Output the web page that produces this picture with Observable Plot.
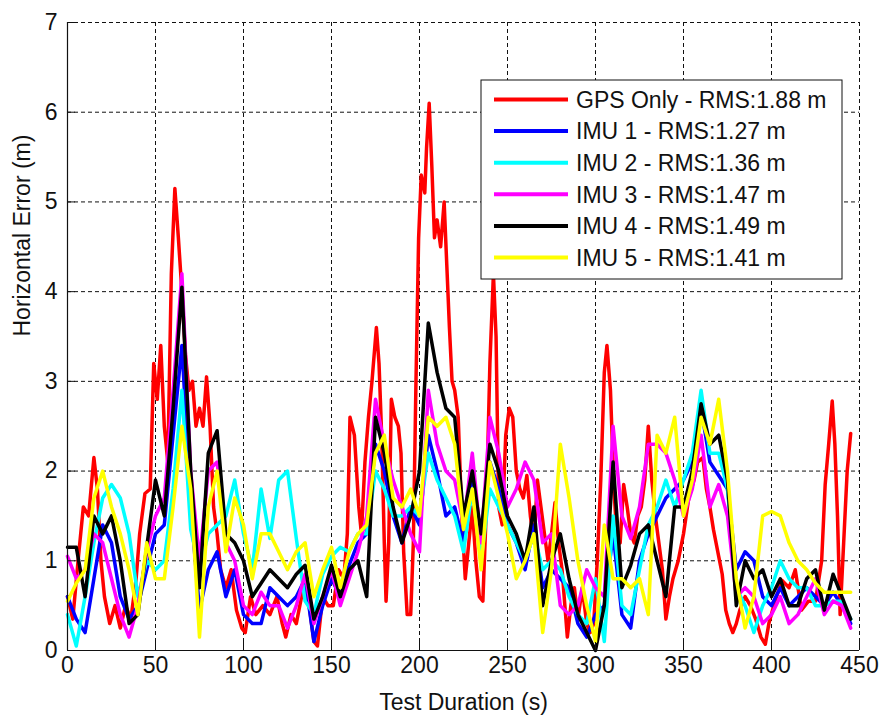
<!DOCTYPE html>
<html><head><meta charset="utf-8">
<script src="https://cdn.jsdelivr.net/npm/d3@7"></script>
<script src="https://cdn.jsdelivr.net/npm/@observablehq/plot@0.6"></script>
<style>html,body{margin:0;padding:0;background:#fff;overflow:hidden;} #chart svg{display:block;}</style>
</head><body><div id="chart"></div>
<script>
// ---------- data ----------
const seriesNames = [
  "GPS Only - RMS:1.88 m",
  "IMU 1 - RMS:1.27 m",
  "IMU 2 - RMS:1.36 m",
  "IMU 3 - RMS:1.47 m",
  "IMU 4 - RMS:1.49 m",
  "IMU 5 - RMS:1.41 m"
];
const seriesColors = ["#ff0000", "#0000ff", "#00ffff", "#ff00ff", "#000000", "#ffff00"];
const xTicks = [0, 50, 100, 150, 200, 250, 300, 350, 400, 450];
const yTicks = [0, 1, 2, 3, 4, 5, 6, 7];
const xLabel = "Test Duration (s)";
const yLabel = "Horizontal Error (m)";

const gpsTime = [
  0,3,6,9,12,15,17,19,21,24,
  27,30,33,36,39,41,44,47,49,51,
  53,55,57,59,61,63,65,67,69,71,
  73,75,77,79,81,83,85,87,90,93,
  96,99,101,104,107,111,115,119,122,124,
  127,130,134,137,140,142,145,148,151,154,
  157,159,160.5,163,165.5,167,169,171,173,175.5,
  177,178.5,180,181,182.5,184,186,188,189.5,191,
  193,195,196.5,198,199.5,201,203,204,205.5,207,
  208.5,210,212,214,215.5,217,218.5,220,222,224,
  226,228,230,232,234,236,238,240,242,243.5,
  245,247,249,251,253,255,257,259,261,263,
  265,267,269,271,273,275,277,279,281,283,
  284,286,288,290,292.5,295,297,299,301,303,
  305,306.5,308.5,310.5,312,314,316,318,320,322,
  324,326,328,330,332,334,336,338,340,342,
  344,347,350,353,356,358,361,363,365,367,
  370,372,374,376,378,380,382,385,388,391,
  394,396.5,398.5,402,406,410,413.5,417,421,425,
  428.5,430.5,432.5,434.5,436,437.5,439,441,443,445
];
const gpsError = [
  0.6,0.35,1.0,1.6,1.5,2.15,1.8,1.0,0.6,0.3,
  0.5,0.25,0.5,0.35,0.8,1.3,1.75,1.8,3.2,2.8,
  3.4,2.5,2.1,4.2,5.15,4.6,4.0,3.3,2.9,3.0,
  2.5,2.7,2.5,3.05,2.5,1.6,1.3,0.9,0.7,0.9,
  0.45,0.25,0.2,0.6,0.4,0.5,0.4,0.6,0.3,0.15,
  0.4,0.3,0.7,0.55,0.1,0.05,0.6,0.5,0.5,0.9,
  0.8,1.3,2.6,2.4,1.6,1.3,2.1,2.6,3.0,3.6,
  3.2,2.4,1.2,0.55,1.2,2.8,2.6,2.5,2.2,1.1,
  0.4,0.4,1.2,3.0,4.6,5.3,5.1,5.6,6.1,5.4,
  4.6,4.8,4.5,5.0,4.3,3.6,3.0,2.9,2.6,1.5,
  0.8,1.2,1.6,1.0,0.6,0.55,1.6,3.2,4.2,3.5,
  1.6,1.4,2.4,2.7,2.6,2.0,1.8,1.7,1.95,1.5,
  1.2,1.9,1.6,1.3,1.0,1.3,1.65,1.2,0.9,0.4,
  0.15,0.5,0.7,0.35,0.7,0.3,0.2,0.3,1.0,1.9,
  3.1,3.4,2.9,1.8,1.3,1.2,1.85,1.6,1.3,1.2,
  1.5,1.6,1.9,2.5,1.9,1.5,1.2,0.9,0.35,0.6,
  0.8,1.0,1.3,1.7,1.9,2.1,2.15,1.8,1.6,1.35,
  1.05,0.85,0.45,0.3,0.2,0.3,0.45,0.6,0.5,0.35,
  0.15,0.07,0.3,0.55,0.78,0.7,0.9,0.45,0.55,0.55,
  1.0,1.85,2.3,2.78,2.3,1.5,0.4,1.2,2.0,2.42
];

const imuTime = [
  0,5,10,15,20,25,30,35,40,45,
  50,55,60,65,70,75,80,85,90,95,
  100,105,110,115,120,125,130,135,140,145,
  150,155,160,165,170,175,180,185,190,195,
  200,205,210,215,220,225,230,235,240,245,
  250,255,260,265,270,275,280,285,290,295,
  300,305,310,315,320,325,330,335,340,345,
  350,355,360,365,370,375,380,385,390,395,
  400,405,410,415,420,425,430,435,440,445
];
const imu1 = [
  0.6,0.35,0.2,0.8,1.4,1.2,0.6,0.35,0.5,0.9,
  1.3,1.4,2.4,3.4,1.6,0.45,0.9,1.1,0.6,0.9,
  0.4,0.3,0.3,0.7,0.6,0.5,0.6,0.8,0.1,0.5,
  0.8,0.6,0.95,1.2,1.3,2.3,2.0,1.5,1.2,1.6,
  1.4,2.4,2.0,1.5,1.6,1.2,2.0,1.2,2.1,1.8,
  1.4,1.2,0.9,1.4,0.7,0.9,0.8,0.7,0.3,0.15,
  0.4,0.5,1.3,0.4,0.25,1.0,1.3,1.5,1.7,1.8,
  1.9,2.1,2.7,2.1,1.95,1.8,0.9,1.1,1.0,0.6,
  0.5,0.7,0.5,0.6,0.7,0.6,0.5,0.65,0.5,0.3
];
const imu2 = [
  0.4,0.05,0.6,1.2,1.7,1.85,1.7,1.3,0.6,1.0,
  0.9,1.0,1.8,2.9,1.35,0.9,1.3,1.4,1.5,1.9,
  1.3,0.9,1.8,1.25,1.9,2.0,1.25,0.55,0.4,0.85,
  1.05,1.15,1.1,1.3,1.3,2.0,1.8,1.5,1.5,1.6,
  1.5,2.2,1.9,1.7,1.5,1.1,1.8,1.0,1.8,1.6,
  1.4,1.2,1.0,1.3,0.9,1.0,0.9,0.6,0.4,0.3,
  0.8,0.1,1.5,0.5,0.4,0.9,1.4,1.6,1.9,1.6,
  1.9,2.2,2.9,2.2,2.2,1.8,0.7,0.5,0.2,0.5,
  0.7,1.0,0.8,0.7,0.7,0.5,0.5,0.55,0.55,0.35
];
const imu3 = [
  1.05,0.8,0.9,1.3,1.2,0.8,0.4,0.15,0.5,1.1,
  1.5,1.7,2.9,4.2,2.0,1.0,2.0,2.1,1.2,1.0,
  0.5,0.4,0.65,0.5,0.5,0.25,0.5,0.85,0.3,0.6,
  0.9,0.5,0.8,1.1,1.5,2.8,2.3,1.9,1.6,1.3,
  1.1,2.9,2.3,2.0,1.9,1.4,2.2,1.2,2.6,2.2,
  1.6,1.8,2.1,1.9,1.2,1.3,0.5,0.4,0.5,0.9,
  0.7,0.6,2.5,1.5,1.25,1.6,2.3,2.3,2.2,1.9,
  1.5,1.8,2.4,1.6,1.85,1.5,0.6,0.7,0.6,0.3,
  0.4,0.6,0.3,0.4,0.6,0.8,0.4,0.55,0.5,0.25
];
const imu4 = [
  1.15,1.15,0.6,1.5,1.3,1.5,1.0,0.3,0.4,1.15,
  1.9,1.5,2.7,4.05,2.0,0.7,2.2,2.45,1.3,1.2,
  1.0,0.6,0.75,0.9,0.8,0.7,0.85,0.95,0.35,0.6,
  0.95,0.6,0.9,1.0,0.6,2.6,2.2,1.6,1.2,1.5,
  2.0,3.65,3.1,2.7,2.6,1.5,2.0,1.3,2.3,2.0,
  1.5,1.3,1.0,1.6,0.5,1.0,1.3,0.8,0.4,0.2,
  0.0,0.5,2.1,0.7,0.95,1.3,1.4,1.0,0.6,1.6,
  1.6,2.0,2.75,2.3,2.4,1.9,0.5,1.0,0.8,0.9,
  0.6,0.8,0.5,0.5,0.8,0.9,0.45,0.85,0.6,0.35
];
const imu5 = [
  0.55,0.75,0.9,1.7,2.0,1.6,1.3,0.9,0.4,1.2,
  0.8,0.8,1.6,2.5,1.8,0.15,1.6,2.0,1.1,1.7,
  1.4,0.8,1.3,1.3,1.1,0.9,1.1,1.2,0.6,0.9,
  1.15,0.7,1.1,1.3,1.4,2.2,2.4,1.7,1.6,1.8,
  1.5,2.6,2.5,2.6,2.3,1.35,1.8,0.9,2.1,1.7,
  1.3,0.8,1.0,1.3,0.2,0.9,2.3,1.7,1.0,0.5,
  0.1,1.4,0.8,0.8,0.7,0.8,0.4,2.4,2.2,2.6,
  1.5,1.9,2.6,2.3,2.8,2.0,0.8,0.25,0.6,1.5,
  1.55,1.5,1.2,1.0,0.9,0.75,0.65,0.65,0.65,0.65
];

// ---------- build ----------
const gpsRows = gpsTime.map((t, i) => ({t, v: gpsError[i]}));
const imuSeries = [imu1, imu2, imu3, imu4, imu5];
const imuRows = imuSeries.map(vals => imuTime.map((t, i) => ({t, v: vals[i]})));

const FONT = "'Liberation Sans', Arial, Helvetica, sans-serif";
const FS = 23;
const W = 882, H = 715, ML = 67, MR = 23, MT = 22, MB = 65;
const lineStyle = {strokeWidth: 3.5, strokeLinejoin: "round", strokeLinecap: "round"};

const chart = Plot.plot({
  width: W, height: H,
  marginLeft: ML, marginRight: MR, marginTop: MT, marginBottom: MB,
  style: {fontFamily: FONT, fontSize: FS + "px", background: "#fff", color: "#111"},
  x: {domain: [0, 450]},
  y: {domain: [0, 7]},
  marks: [
    Plot.ruleX(xTicks.slice(1), {x: d => d, stroke: "#111", strokeWidth: 1, strokeDasharray: "4,3"}),
    Plot.ruleY(yTicks.slice(1), {y: d => d, stroke: "#111", strokeWidth: 1, strokeDasharray: "4,3"}),
    Plot.line(gpsRows, {x: "t", y: "v", stroke: seriesColors[0], ...lineStyle}),
    ...imuRows.map((rows, i) => Plot.line(rows, {x: "t", y: "v", stroke: seriesColors[i + 1], ...lineStyle})),
    Plot.tickX(xTicks, {x: d => d, insetTop: (H - MT - MB) - 8, stroke: "#111"}),
    Plot.tickY(yTicks, {y: d => d, insetRight: (W - ML - MR) - 8, stroke: "#111"}),
    Plot.ruleX([0], {stroke: "#111", strokeWidth: 1.2}),
    Plot.ruleY([0], {stroke: "#111", strokeWidth: 1.2}),
    Plot.axisX(xTicks, {tickSize: 0, tickPadding: 6, fontSize: FS, label: null, tickFormat: d => String(d)}),
    Plot.axisY(yTicks, {tickSize: 0, tickPadding: 10, fontSize: FS, label: null, tickFormat: d => String(d)}),
    Plot.text([xLabel], {frameAnchor: "bottom", dy: 59, fontSize: FS, text: d => d, fill: "#111"}),
    Plot.text([yLabel], {frameAnchor: "left", dx: -45, rotate: -90, fontSize: FS, text: d => d, fill: "#111"})
  ]
});

// ---------- legend (drawn into the plot's svg) ----------
const svg = d3.select(chart);
const lg = svg.append("g")
  .attr("font-family", FONT).attr("font-size", FS)
  .attr("text-anchor", "start").style("text-anchor", "start");
lg.append("rect")
  .attr("x", 481).attr("y", 80).attr("width", 361).attr("height", 199)
  .attr("fill", "#fff").attr("stroke", "#111").attr("stroke-width", 1);
seriesNames.forEach((name, i) => {
  const y = 99.5 + i * 31.6;
  lg.append("line")
    .attr("x1", 494).attr("x2", 568).attr("y1", y).attr("y2", y)
    .attr("stroke", seriesColors[i]).attr("stroke-width", 4);
  lg.append("text")
    .attr("x", 576).attr("y", y).attr("dy", "0.36em")
    .attr("text-anchor", "start")
    .attr("fill", "#111").text(name);
});

document.getElementById("chart").appendChild(chart);
</script>
</body></html>
